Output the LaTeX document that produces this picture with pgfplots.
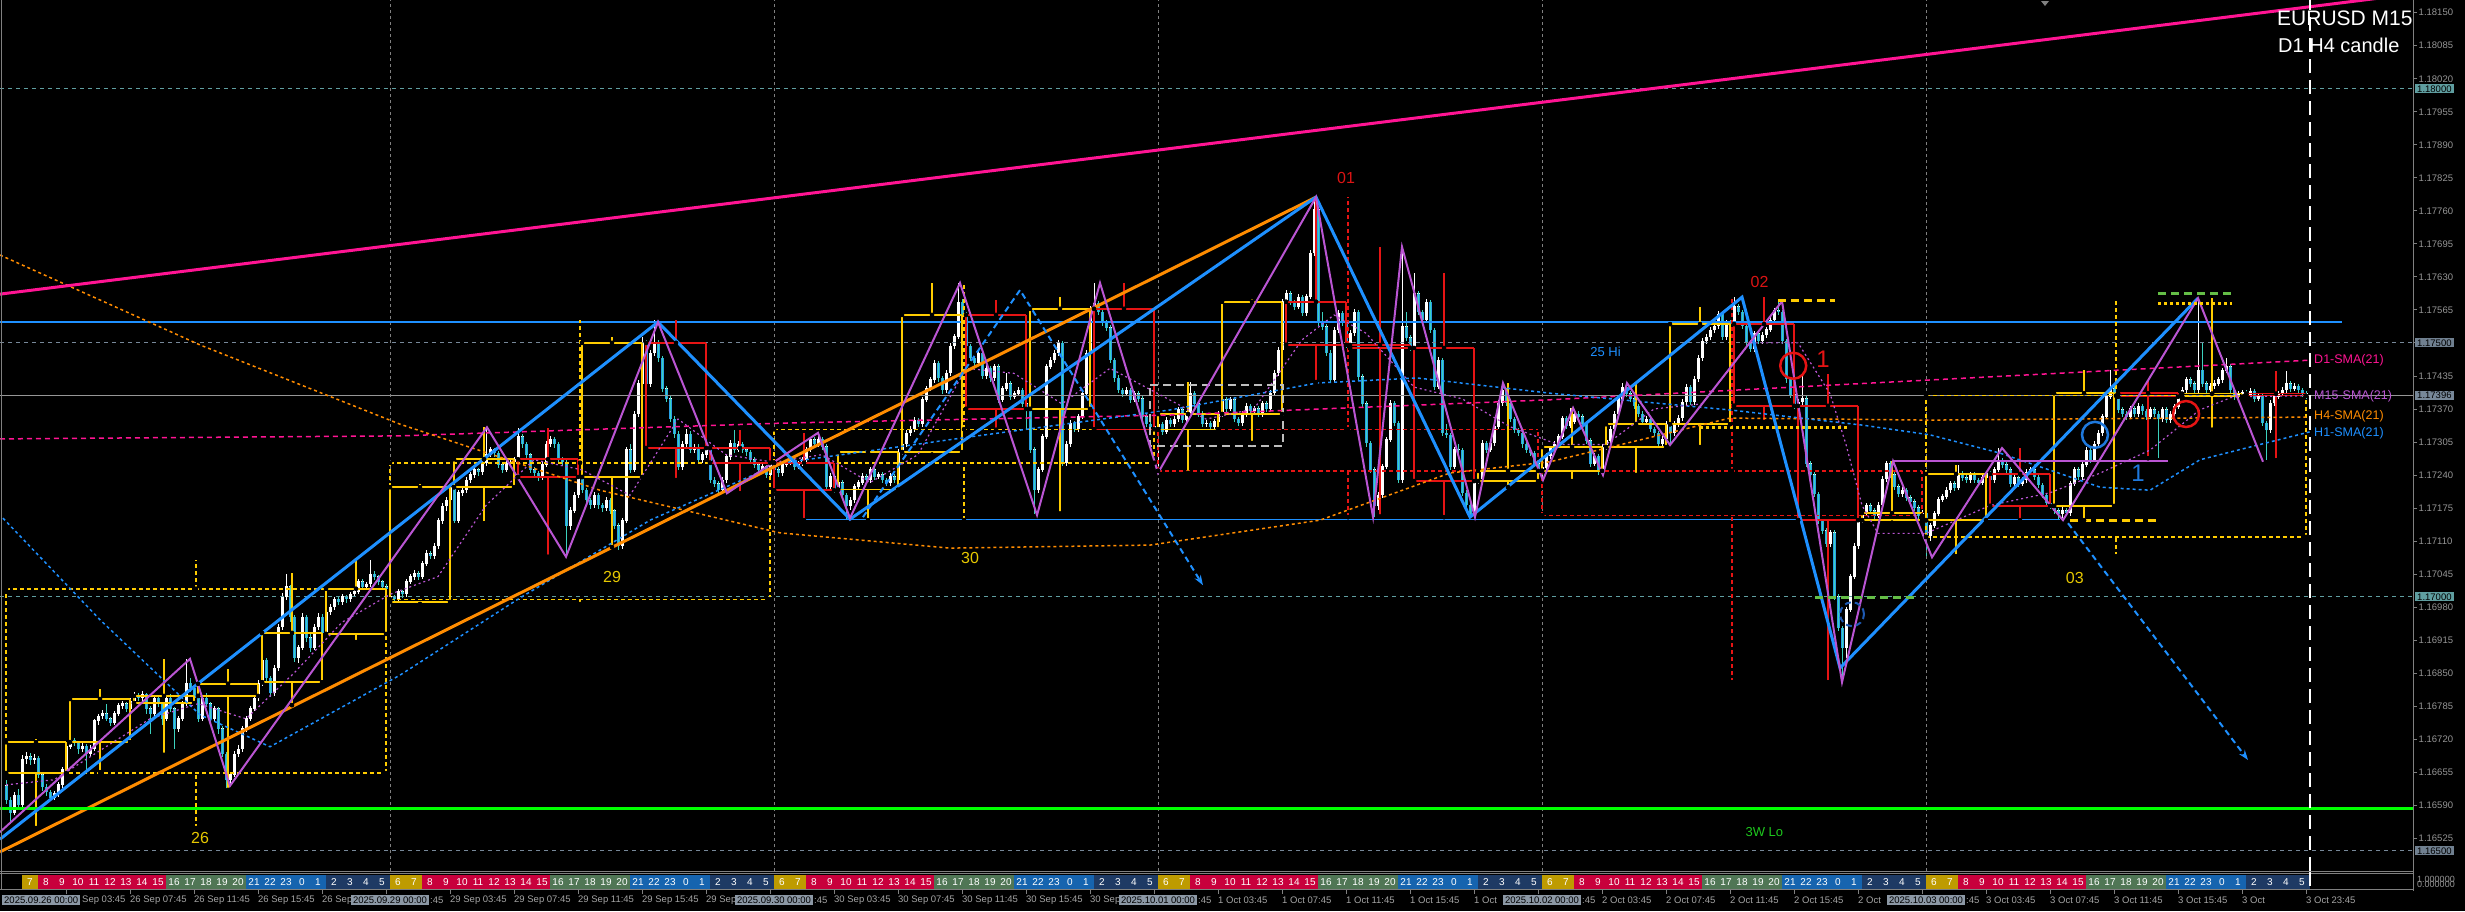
\documentclass[border=0pt]{standalone}
\usepackage{fontspec}
\setmainfont{Liberation Sans}
\usepackage{pgfplots}
\usepackage{pgfplotstable}
\pgfplotsset{compat=1.18}
\usetikzlibrary{arrows.meta}

\definecolor{cPink}{RGB}{255,20,147}
\definecolor{cGreen}{RGB}{0,255,0}
\definecolor{cGreenTxt}{RGB}{30,200,30}
\definecolor{cBlue}{RGB}{30,144,255}
\definecolor{cOrange}{RGB}{255,140,0}
\definecolor{cOrchid}{RGB}{186,85,211}
\definecolor{cYel}{RGB}{255,204,0}
\definecolor{cRed}{RGB}{230,20,20}
\definecolor{cBearBody}{RGB}{40,160,230}
\definecolor{cBearWick}{RGB}{60,210,190}
\definecolor{cLvlGray}{RGB}{119,136,153}
\definecolor{cCadet}{RGB}{95,158,160}
\definecolor{cCur}{RGB}{150,150,150}
\definecolor{cSep}{RGB}{128,128,128}
\definecolor{cTickText}{RGB}{150,150,150}
\definecolor{cFrame}{RGB}{128,128,128}
\definecolor{cLabelYel}{RGB}{230,200,0}
\definecolor{cLabelRed}{RGB}{220,20,20}
\definecolor{cGreenDash}{RGB}{100,190,70}
\definecolor{cBox2}{RGB}{112,128,144}
\definecolor{cDate}{RGB}{140,152,165}
\definecolor{cTime}{RGB}{165,165,165}
\definecolor{sGold}{RGB}{190,155,0}
\definecolor{sRed}{RGB}{200,0,60}
\definecolor{sGreen}{RGB}{80,118,85}
\definecolor{sBlue}{RGB}{22,100,175}
\definecolor{sNavy}{RGB}{30,58,100}
\definecolor{cGrayBox}{RGB}{190,190,190}
\definecolor{cBlueC}{RGB}{30,120,220}
\definecolor{cBlueD}{RGB}{30,90,180}

% M15 candles: open high low close (price = 1.16 + value/100000), one row per 15 minutes
\pgfplotstableread{
o h l c
628 640 592 600
600 606 553 575
575 615 570 610
610 622 585 590
590 688 583 680
680 694 672 685
685 692 670 678
678 690 672 682
682 686 644 650
650 655 618 625
625 632 608 615
615 620 598 605
605 618 600 612
612 636 606 630
630 666 624 660
660 712 655 705
705 726 700 718
718 722 706 712
712 716 690 700
700 712 694 706
706 710 655 690
690 708 684 700
700 760 696 756
756 770 748 765
765 778 760 770
770 790 755 760
760 764 745 752
752 776 748 770
770 792 766 786
786 796 780 790
790 794 774 780
780 800 776 795
795 812 790 805
805 810 795 800
800 815 796 808
808 811 770 780
780 785 730 770
770 806 764 800
800 804 784 790
790 794 748 760
760 806 756 800
800 808 774 780
780 784 700 740
740 766 734 760
760 796 756 790
790 877 786 830
830 840 812 820
820 826 794 800
800 804 754 760
760 806 756 800
800 810 784 790
790 794 752 760
760 786 754 780
780 784 730 740
740 746 684 690
690 694 621 640
640 656 630 650
650 696 645 690
690 708 684 700
700 746 695 740
740 766 735 760
760 786 755 780
780 806 775 800
800 836 796 829
829 877 824 875
875 880 835 840
840 845 802 810
810 866 805 860
860 946 855 940
940 1008 935 1000
1000 1046 994 1020
1020 1024 950 960
960 964 872 880
880 906 870 900
900 968 895 960
960 964 912 920
920 926 892 900
900 946 896 940
940 968 934 960
960 966 922 929
929 976 924 970
970 986 964 980
980 1000 974 995
995 1000 984 990
990 1006 985 1000
1000 1004 988 995
995 1010 990 1005
1005 1016 1000 1010
1010 1036 1006 1030
1030 1035 1014 1020
1020 1030 1015 1025
1025 1073 1020 1045
1045 1050 1034 1040
1040 1044 1024 1030
1030 1034 1014 1020
1020 1026 1010 1016
990 1006 986 1000
1000 1004 988 995
995 1016 990 1010
1010 1014 998 1005
1005 1036 1000 1030
1030 1046 1025 1040
1040 1052 1034 1046
1046 1050 1034 1040
1040 1070 1036 1065
1065 1092 1060 1085
1085 1090 1074 1080
1080 1106 1075 1100
1100 1156 1095 1150
1150 1184 1144 1178
1178 1196 1170 1190
1190 1222 1185 1216
1216 1220 1145 1150
1150 1210 1146 1205
1205 1216 1198 1210
1210 1236 1205 1230
1230 1246 1225 1240
1240 1256 1235 1250
1250 1254 1238 1245
1245 1268 1240 1263
1263 1335 1258 1280
1280 1296 1275 1290
1290 1294 1276 1283
1283 1288 1254 1260
1260 1264 1244 1250
1250 1268 1245 1262
1262 1270 1256 1265
1265 1276 1260 1271
1271 1332 1266 1315
1315 1320 1294 1300
1300 1305 1274 1280
1280 1284 1244 1250
1250 1256 1236 1243
1243 1248 1228 1235
1235 1266 1230 1260
1260 1306 1255 1300
1300 1316 1295 1310
1310 1315 1294 1300
1300 1304 1264 1270
1270 1276 1258 1265
1265 1270 1079 1140
1140 1176 1132 1170
1170 1206 1165 1200
1200 1242 1195 1236
1236 1240 1204 1210
1210 1215 1184 1190
1190 1195 1174 1180
1180 1206 1175 1200
1200 1204 1174 1180
1180 1185 1168 1175
1175 1196 1170 1190
1190 1194 1164 1170
1170 1174 1134 1140
1140 1146 1092 1100
1100 1156 1095 1150
1150 1296 1145 1290
1290 1300 1244 1250
1250 1366 1245 1360
1360 1426 1354 1420
1420 1512 1415 1500
1500 1506 1414 1420
1420 1486 1414 1480
1480 1545 1474 1500
1500 1505 1462 1470
1470 1474 1404 1410
1410 1416 1384 1390
1390 1396 1344 1350
1350 1356 1312 1320
1320 1326 1250 1256
1256 1306 1250 1300
1300 1330 1295 1320
1320 1326 1284 1290
1290 1300 1284 1295
1295 1300 1264 1270
1270 1286 1264 1280
1280 1298 1274 1293
1293 1298 1224 1230
1230 1236 1216 1223
1223 1228 1204 1210
1210 1236 1205 1230
1230 1282 1225 1276
1276 1308 1270 1302
1302 1329 1284 1290
1290 1306 1285 1300
1300 1305 1284 1290
1290 1296 1278 1285
1285 1290 1264 1270
1270 1275 1254 1260
1260 1265 1244 1250
1250 1262 1245 1256
1256 1260 1234 1240
1240 1270 1236 1264
1264 1268 1244 1250
1250 1255 1236 1243
1243 1266 1238 1260
1260 1270 1255 1265
1265 1275 1260 1269
1269 1273 1250 1256
1256 1268 1251 1262
1262 1276 1257 1270
1270 1296 1265 1290
1290 1315 1285 1309
1309 1314 1294 1300
1300 1322 1295 1310
1310 1314 1290 1296
1296 1300 1210 1217
1217 1243 1212 1237
1237 1242 1205 1211
1211 1231 1206 1225
1225 1230 1194 1200
1200 1205 1151 1178
1178 1196 1172 1190
1190 1223 1185 1217
1217 1231 1212 1225
1225 1243 1220 1237
1237 1242 1224 1230
1230 1256 1225 1250
1250 1255 1231 1237
1237 1246 1232 1240
1240 1245 1224 1230
1230 1235 1218 1224
1224 1243 1219 1237
1237 1242 1224 1230
1230 1291 1225 1285
1285 1306 1280 1300
1300 1328 1295 1322
1322 1336 1316 1330
1330 1354 1325 1348
1348 1353 1334 1340
1340 1394 1335 1388
1388 1416 1383 1410
1410 1433 1405 1427
1427 1466 1422 1460
1460 1465 1424 1430
1430 1435 1400 1407
1407 1446 1402 1440
1440 1499 1435 1493
1493 1518 1488 1512
1512 1617 1507 1580
1580 1586 1548 1555
1555 1560 1487 1493
1493 1498 1464 1470
1470 1475 1454 1460
1460 1486 1455 1480
1480 1484 1428 1434
1434 1456 1429 1450
1450 1455 1424 1430
1430 1459 1425 1453
1453 1458 1382 1388
1388 1416 1383 1410
1410 1440 1405 1420
1420 1425 1388 1394
1394 1406 1389 1400
1400 1413 1395 1407
1407 1412 1374 1380
1380 1385 1329 1370
1370 1375 1284 1290
1290 1295 1164 1211
1211 1256 1205 1250
1250 1321 1245 1315
1315 1459 1310 1453
1453 1472 1448 1466
1466 1486 1461 1480
1480 1505 1475 1499
1499 1504 1258 1263
1263 1306 1257 1300
1300 1348 1295 1342
1342 1347 1324 1330
1330 1361 1325 1355
1355 1406 1350 1400
1400 1486 1395 1480
1480 1573 1475 1567
1567 1617 1562 1578
1578 1583 1554 1560
1560 1565 1534 1540
1540 1545 1524 1530
1530 1535 1460 1466
1466 1471 1424 1430
1430 1436 1401 1407
1407 1412 1394 1400
1400 1413 1395 1407
1407 1412 1382 1388
1388 1406 1383 1400
1400 1405 1384 1390
1390 1395 1349 1355
1355 1360 1334 1340
1340 1346 1329 1335
1335 1340 1324 1330
1330 1346 1244 1340
1340 1345 1319 1325
1325 1354 1320 1348
1348 1353 1334 1340
1340 1356 1335 1350
1350 1374 1345 1368
1368 1373 1342 1348
1348 1366 1343 1360
1360 1424 1355 1401
1401 1406 1374 1380
1380 1385 1355 1361
1361 1366 1334 1340
1340 1348 1335 1342
1342 1347 1329 1335
1335 1351 1330 1345
1345 1366 1340 1360
1360 1394 1355 1388
1388 1393 1364 1370
1370 1394 1365 1388
1388 1393 1344 1350
1350 1355 1336 1342
1342 1366 1337 1360
1360 1381 1355 1375
1375 1380 1359 1365
1365 1376 1360 1370
1370 1375 1354 1360
1360 1386 1355 1380
1380 1385 1364 1370
1370 1407 1365 1401
1401 1446 1396 1440
1440 1492 1435 1486
1486 1587 1481 1581
1581 1605 1576 1597
1597 1602 1574 1580
1580 1585 1565 1571
1571 1596 1566 1590
1590 1595 1552 1558
1558 1597 1553 1591
1591 1682 1586 1676
1676 1788 1671 1762
1762 1768 1533 1539
1539 1560 1526 1532
1532 1538 1474 1480
1480 1486 1423 1427
1427 1531 1422 1525
1525 1564 1520 1558
1558 1563 1534 1540
1540 1546 1490 1496
1496 1525 1491 1519
1519 1566 1514 1560
1560 1565 1427 1433
1433 1438 1374 1380
1380 1385 1296 1302
1302 1307 1244 1250
1250 1255 1158 1178
1178 1206 1172 1200
1200 1262 1195 1256
1256 1315 1251 1309
1309 1387 1304 1381
1381 1386 1336 1342
1342 1347 1224 1230
1230 1689 1225 1532
1532 1560 1504 1510
1510 1515 1484 1490
1490 1638 1485 1597
1597 1602 1554 1560
1560 1565 1539 1545
1545 1586 1540 1580
1580 1585 1519 1525
1525 1530 1408 1414
1414 1472 1409 1466
1466 1471 1316 1322
1322 1340 1312 1318
1318 1323 1250 1256
1256 1296 1251 1290
1290 1300 1280 1289
1289 1294 1198 1204
1204 1210 1174 1180
1180 1185 1157 1160
1160 1234 1157 1228
1228 1240 1222 1232
1232 1308 1227 1302
1302 1307 1284 1290
1290 1308 1285 1302
1302 1341 1297 1335
1335 1387 1330 1381
1381 1421 1376 1407
1407 1412 1375 1381
1381 1386 1344 1350
1350 1355 1322 1328
1328 1333 1316 1322
1322 1327 1294 1300
1300 1305 1283 1289
1289 1294 1277 1283
1283 1288 1256 1262
1262 1267 1242 1248
1248 1260 1230 1254
1254 1283 1249 1277
1277 1298 1272 1292
1292 1306 1287 1300
1300 1321 1295 1315
1315 1357 1310 1352
1352 1357 1331 1337
1337 1372 1332 1345
1345 1366 1340 1360
1360 1365 1349 1355
1355 1360 1334 1340
1340 1345 1301 1307
1307 1312 1256 1262
1262 1283 1257 1277
1277 1282 1240 1247
1247 1301 1242 1295
1295 1313 1290 1307
1307 1336 1302 1330
1330 1366 1325 1360
1360 1396 1355 1390
1390 1421 1385 1413
1413 1418 1394 1400
1400 1405 1384 1390
1390 1395 1369 1375
1375 1380 1354 1360
1360 1365 1339 1345
1345 1356 1340 1350
1350 1355 1324 1330
1330 1335 1316 1322
1322 1327 1296 1300
1300 1316 1296 1310
1310 1346 1305 1340
1340 1345 1299 1322
1322 1346 1317 1340
1340 1358 1335 1352
1352 1389 1347 1383
1383 1419 1378 1413
1413 1418 1377 1383
1383 1434 1378 1428
1428 1476 1423 1470
1470 1509 1465 1503
1503 1517 1498 1511
1511 1531 1506 1525
1525 1539 1520 1533
1533 1562 1528 1556
1556 1561 1505 1511
1511 1546 1506 1540
1540 1545 1531 1537
1537 1590 1532 1571
1571 1576 1554 1560
1560 1565 1527 1533
1533 1538 1494 1500
1500 1505 1482 1488
1488 1524 1483 1518
1518 1523 1497 1503
1503 1521 1498 1515
1515 1532 1510 1526
1526 1551 1521 1545
1545 1568 1540 1563
1563 1582 1554 1560
1560 1565 1497 1503
1503 1508 1422 1428
1428 1433 1392 1398
1398 1403 1370 1376
1376 1389 1371 1383
1383 1439 1378 1390
1390 1395 1256 1262
1262 1267 1234 1240
1240 1245 1196 1202
1202 1207 1143 1149
1149 1154 1124 1130
1130 1135 1098 1104
1104 1132 1099 1126
1126 1131 994 1000
1000 1005 932 938
938 943 832 900
900 981 880 975
975 1046 970 1040
1040 1106 1035 1100
1100 1157 1095 1151
1151 1170 1146 1164
1164 1185 1159 1179
1179 1184 1164 1170
1170 1175 1154 1160
1160 1186 1155 1180
1180 1238 1175 1232
1232 1268 1227 1262
1262 1267 1234 1240
1240 1245 1211 1217
1217 1222 1196 1202
1202 1216 1197 1210
1210 1215 1189 1195
1195 1200 1181 1187
1187 1192 1169 1175
1175 1180 1154 1160
1160 1171 1155 1165
1165 1170 1080 1120
1120 1146 1110 1140
1140 1170 1135 1164
1164 1197 1159 1191
1191 1203 1186 1197
1197 1216 1192 1210
1210 1229 1205 1223
1223 1228 1209 1215
1215 1260 1210 1243
1243 1248 1229 1235
1235 1240 1224 1230
1230 1246 1225 1240
1240 1245 1224 1230
1230 1235 1219 1225
1225 1241 1220 1235
1235 1248 1230 1242
1242 1247 1224 1230
1230 1256 1225 1250
1250 1293 1245 1269
1269 1274 1254 1260
1260 1265 1244 1250
1250 1255 1217 1223
1223 1241 1218 1235
1235 1240 1217 1223
1223 1236 1218 1230
1230 1251 1225 1245
1245 1256 1240 1250
1250 1255 1230 1236
1236 1241 1214 1220
1220 1225 1194 1200
1200 1205 1178 1184
1184 1189 1173 1179
1179 1184 1164 1170
1170 1175 1151 1164
1164 1176 1155 1170
1170 1175 1159 1165
1165 1229 1160 1223
1223 1256 1218 1250
1250 1255 1230 1236
1236 1266 1231 1260
1260 1295 1255 1289
1289 1294 1264 1270
1270 1306 1265 1300
1300 1328 1295 1322
1322 1361 1317 1355
1355 1400 1350 1394
1394 1446 1389 1410
1410 1415 1395 1401
1401 1406 1362 1368
1368 1373 1354 1360
1360 1365 1349 1355
1355 1376 1350 1370
1370 1375 1354 1360
1360 1381 1355 1375
1375 1380 1359 1365
1365 1370 1349 1355
1355 1374 1350 1368
1368 1373 1354 1360
1360 1365 1273 1350
1350 1374 1345 1368
1368 1373 1342 1348
1348 1366 1343 1360
1360 1380 1355 1374
1374 1400 1369 1394
1394 1413 1389 1407
1407 1433 1402 1427
1427 1432 1414 1420
1420 1425 1401 1407
1407 1588 1402 1446
1446 1500 1414 1420
1420 1425 1401 1407
1407 1421 1402 1415
1415 1426 1410 1420
1420 1433 1415 1427
1427 1451 1422 1445
1445 1470 1440 1453
1453 1458 1401 1407
1407 1412 1388 1394
1394 1406 1389 1400
1400 1408 1392 1402
1402 1407 1392 1398
1398 1411 1393 1405
1405 1410 1384 1390
1390 1401 1385 1395
1395 1400 1336 1342
1342 1347 1269 1328
1328 1387 1323 1381
1381 1400 1376 1394
1394 1406 1389 1400
1400 1413 1395 1407
1407 1445 1402 1420
1420 1425 1404 1410
1410 1421 1405 1415
1415 1420 1401 1407
1407 1412 1394 1400
1400 1405 1390 1396
}\candles

% H4 candles drawn as boxes (k = index of 4-hour block)
\pgfplotstableread{
k o c hi lo
0 653 714 720 545
1 714 799 819 655
2 791 805 878 689
3 805 829 858 620
4 832 929 1047 787
5 927 1016 1073 911
6 990 1216 1222 986
7 1216 1271 1334 1145
8 1271 1236 1332 1079
9 1236 1500 1512 1098
10 1500 1293 1545 1230
11 1293 1264 1329 1204
12 1264 1210 1322 1151
13 1211 1285 1290 1151
14 1285 1555 1618 1280
15 1555 1370 1584 1329
16 1370 1567 1590 1164
17 1567 1330 1618 1324
18 1330 1360 1424 1244
19 1360 1581 1587 1303
20 1581 1496 1788 1423
21 1496 1490 1689 1158
22 1490 1228 1638 1157
23 1228 1248 1421 1216
24 1248 1295 1372 1228
25 1295 1340 1421 1240
26 1340 1537 1571 1295
27 1537 1376 1590 1344
28 1376 1151 1439 832
29 1151 1165 1268 1146
30 1151 1242 1260 1080
31 1242 1179 1293 1151
32 1179 1401 1446 1151
33 1401 1394 1427 1273
34 1394 1400 1588 1329
35 1400 1396 1445 1269
}\hfour

% D1 candles drawn as dashed boxes
\pgfplotstableread{
k o c hi lo
0 653 1016 1073 545
1 995 1264 1545 986
2 1264 1330 1618 1151
3 1330 1248 1788 1157
4 1248 1160 1590 832
5 1118 1396 1588 1080
}\done

% #1 table, #2 period, #3 width, #4 style, #5 flag (1 = draw)
\newcommand{\boxset}[5]{%
\addplot[only marks,mark=none,forget plot,error bars/.cd,y dir=plus,y explicit,error mark=none,error bar style={#4}] table[x expr={#2*\thisrow{k}}, y expr={min(\thisrow{o},\thisrow{c})}, y error expr={(#5)*abs(\thisrow{c}-\thisrow{o})}]{#1};
\addplot[only marks,mark=none,forget plot,error bars/.cd,y dir=plus,y explicit,error mark=none,error bar style={#4}] table[x expr={#2*\thisrow{k}+#3}, y expr={min(\thisrow{o},\thisrow{c})}, y error expr={(#5)*abs(\thisrow{c}-\thisrow{o})}]{#1};
\addplot[only marks,mark=none,forget plot,error bars/.cd,x dir=plus,x explicit,error mark=none,error bar style={#4}] table[x expr={#2*\thisrow{k}}, y expr={max(\thisrow{o},\thisrow{c})}, x error expr={(#5)*#3}]{#1};
\addplot[only marks,mark=none,forget plot,error bars/.cd,x dir=plus,x explicit,error mark=none,error bar style={#4}] table[x expr={#2*\thisrow{k}}, y expr={min(\thisrow{o},\thisrow{c})}, x error expr={(#5)*#3}]{#1};
\addplot[only marks,mark=none,forget plot,error bars/.cd,y dir=plus,y explicit,error mark=none,error bar style={#4}] table[x expr={#2*\thisrow{k}+#3/2}, y expr={max(\thisrow{o},\thisrow{c})}, y error expr={(#5)*(\thisrow{hi}-max(\thisrow{o},\thisrow{c}))}]{#1};
\addplot[only marks,mark=none,forget plot,error bars/.cd,y dir=plus,y explicit,error mark=none,error bar style={#4}] table[x expr={#2*\thisrow{k}+#3/2}, y=lo, y error expr={(#5)*(min(\thisrow{o},\thisrow{c})-\thisrow{lo})}]{#1};
}

\begin{document}
\begin{tikzpicture}[x=1pt,y=1pt]
\useasboundingbox (0,0) rectangle (2465,-911);
\fill[black] (0,0) rectangle (2465,-911);

\begin{axis}[
  at={(0pt,0pt)}, anchor=north west, scale only axis,
  width=2413pt, height=871pt,
  xmin=-0.375, xmax=150.4375, ymin=460.4, ymax=2175,
  axis line style={draw=none},
  xtick=\empty,
  ytick={525,590,...,2150},
  yticklabels={1.16525,1.16590,1.16655,1.16720,1.16785,1.16850,1.16915,1.16980,1.17045,1.17110,1.17175,1.17240,1.17305,1.17370,1.17435,1.17500,1.17565,1.17630,1.17695,1.17760,1.17825,1.17890,1.17955,1.18020,1.18085,1.18150},
  ytick pos=right, yticklabel pos=right,
  tick align=outside, major tick length=4pt,
  tick style={draw=cFrame, line width=0.8pt},
  yticklabel style={font=\fontsize{9.5}{11}\selectfont, text=cTickText, inner sep=1.5pt},
  clip=true,
]
% candles (combs from the bottom, lower part masked in black)
\addplot[ycomb, mark=none, draw=white, line width=3pt, forget plot] table[x expr={0.25*\coordindex}, y expr={max(\thisrow{o},\thisrow{c})+1}]{\candles};
\addplot[ycomb, mark=none, draw=cBearBody, line width=3pt, forget plot] table[x expr={0.25*\coordindex}, y expr={(\thisrow{c}<\thisrow{o})*\thisrow{o}}]{\candles};
\addplot[ycomb, mark=none, draw=black, line width=3.4pt, forget plot] table[x expr={0.25*\coordindex}, y expr={min(\thisrow{o},\thisrow{c})}]{\candles};
\addplot[ycomb, mark=none, draw=white, line width=1pt, forget plot] table[x expr={0.25*\coordindex}, y=h]{\candles};
\addplot[ycomb, mark=none, draw=cBearWick, line width=1pt, forget plot] table[x expr={0.25*\coordindex}, y expr={(\thisrow{c}<\thisrow{o})*\thisrow{h}}]{\candles};
\addplot[ycomb, mark=none, draw=black, line width=1.4pt, forget plot] table[x expr={0.25*\coordindex}, y=l]{\candles};
% price levels
\addplot[cCadet, dash pattern=on 4pt off 4pt, line width=1pt] coordinates {(-0.375,2000) (150.44,2000)};
\addplot[cCadet, dash pattern=on 4pt off 4pt, line width=1pt] coordinates {(-0.375,1000) (150.44,1000)};
\addplot[cLvlGray, dash pattern=on 4pt off 4pt, line width=1pt] coordinates {(-0.375,1500) (150.44,1500)};
\addplot[cLvlGray, dash pattern=on 4pt off 4pt, line width=1pt] coordinates {(-0.375,500) (150.44,500)};
\addplot[cCur, line width=1pt] coordinates {(-0.375,1396) (150.44,1396)};
% day separators
\addplot[cSep, dash pattern=on 3pt off 3pt, line width=1pt] coordinates {(24,460.4) (24,2175)};
\addplot[cSep, dash pattern=on 3pt off 3pt, line width=1pt] coordinates {(48,460.4) (48,2175)};
\addplot[cSep, dash pattern=on 3pt off 3pt, line width=1pt] coordinates {(72,460.4) (72,2175)};
\addplot[cSep, dash pattern=on 3pt off 3pt, line width=1pt] coordinates {(96,460.4) (96,2175)};
\addplot[cSep, dash pattern=on 3pt off 3pt, line width=1pt] coordinates {(120,460.4) (120,2175)};
% horizontal blue levels
\addplot[cBlue, line width=1.3pt] coordinates {(-0.375,1541) (146,1541)};
\addplot[cBlue, line width=1.3pt] coordinates {(49.9,1153) (128.4,1153)};
% D1 boxes
\boxset{\done}{24}{23.75}{draw=cYel, line width=1.5pt, dash pattern=on 4pt off 3pt}{1-(\thisrow{c}<\thisrow{o})}
\boxset{\done}{24}{23.75}{draw=cRed, line width=1.5pt, dash pattern=on 4pt off 3pt}{(\thisrow{c}<\thisrow{o})}
% H4 boxes
\boxset{\hfour}{4}{3.75}{draw=cYel, line width=1.5pt}{1-(\thisrow{c}<\thisrow{o})}
\boxset{\hfour}{4}{3.75}{draw=cRed, line width=1.5pt}{(\thisrow{c}<\thisrow{o})}
% moving averages
\addplot[cPink, line width=1.5pt, dash pattern=on 5pt off 4pt] coordinates {(-0.375,1311) (24.625,1317) (48.375,1342) (72.75,1358) (96.5,1388) (120.25,1427) (144,1466)};
\addplot[cOrange, line width=1.5pt, dash pattern=on 3pt off 3pt] coordinates {(-0.375,1673) (12.125,1496) (24.625,1340) (37.125,1210) (48.375,1126) (59,1096) (71.5,1102) (82.125,1151) (90.25,1244) (96.5,1266) (107.75,1352) (120.25,1348) (144,1354)};
\addplot[cBlue, line width=1.5pt, dash pattern=on 3pt off 3pt] coordinates {(-0.19,1155) (5.875,955) (12.125,768) (16.5,705) (24.625,846) (32.125,998) (40.25,1151) (48.375,1263) (60.25,1315) (72.75,1368) (81.94,1421) (88.19,1431) (96.5,1401) (107.75,1368) (116.06,1338) (120.25,1319) (124.625,1283) (130.875,1216) (134,1210) (137.125,1270) (144,1325)};
\addplot[cOrchid, line width=1.2pt, dash pattern=on 2pt off 3pt] coordinates {(0,630) (3,640) (6,700) (9,760) (12,790) (15,760) (18,850) (21,950) (24,1005) (27,1040) (30,1180) (33,1270) (36,1250) (39,1200) (42,1350) (45,1280) (48,1265) (51,1280) (54,1225) (57,1280) (60,1450) (63,1440) (66,1380) (69,1450) (72,1400) (75,1350) (78,1370) (81,1506) (83,1555) (85,1519) (88,1413) (91,1390) (94,1335) (97,1300) (100,1300) (103,1370) (106,1380) (109,1500) (112,1500) (114,1400) (115,1300) (116,1180) (117,1125) (120,1125) (124,1180) (127.75,1205) (130.9,1244) (134,1289) (137.1,1368) (139.2,1394) (144,1396)};
% gray dashed range box
\addplot[cGrayBox, line width=2.5pt, dash pattern=on 8pt off 5pt] coordinates {(71.5,1417) (79.81,1417) (79.81,1297) (71.5,1297) (71.5,1417)};
% trend lines
\addplot[cPink, line width=3pt] coordinates {(-0.375,1596) (150.44,2187)};
\addplot[cOrange, line width=3pt] coordinates {(-0.375,498) (81.875,1787)};
\addplot[cGreen, line width=3pt] coordinates {(-0.375,583) (150.44,583)};
% zigzags
\addplot[cBlue, line width=3pt] coordinates {(-0.375,523) (40.75,1541) (52.75,1153) (81.875,1787) (91.5,1157) (108.5,1590) (114.625,860) (137,1588)};
\addplot[cOrchid, line width=2pt] coordinates {(-0.375,537) (11.5,878) (14,628) (30.06,1334) (35,1079) (40.75,1541) (45.06,1204) (50.75,1323) (52.75,1155) (59.625,1618) (64.44,1161) (68.375,1618) (72,1244) (81.875,1787) (85.44,1157) (87.25,1689) (91.81,1157) (93.56,1421) (96.06,1230) (97.94,1372) (99.81,1240) (101.31,1421) (104,1299) (111,1582) (114.75,832) (117.94,1267) (120.375,1078) (124.75,1293) (128.56,1151) (137,1588) (141.06,1266)};
\addplot[cOrchid, line width=1.5pt] coordinates {(117.94,1267.5) (135.125,1267.5)};
% projection arrows
\addplot[cBlue, line width=2pt, dash pattern=on 6pt off 4pt, -{Stealth[length=10pt,width=7pt]}] coordinates {(53.56,1157) (63.375,1604) (74.81,1023)};
\addplot[cBlue, line width=2pt, dash pattern=on 6pt off 4pt, -{Stealth[length=10pt,width=7pt]}] coordinates {(128.875,1145) (140.125,679)};
% level markers
\addplot[cYel, line width=3pt, dash pattern=on 8pt off 5pt] coordinates {(110.75,1584) (114.3,1584)};
\addplot[cYel, line width=3pt, dash pattern=on 3pt off 3pt] coordinates {(105.9,1334) (115.06,1334)};
\addplot[cGreenDash, line width=3pt, dash pattern=on 8pt off 5pt] coordinates {(113.06,998) (119.5,998)};
\addplot[cGreenDash, line width=3pt, dash pattern=on 8pt off 5pt] coordinates {(134.5,1598) (139.3,1598)};
\addplot[cYel, line width=3pt, dash pattern=on 3pt off 3pt] coordinates {(134.5,1578) (139.1,1578)};
\addplot[cYel, line width=3pt, dash pattern=on 8pt off 5pt] coordinates {(129,1151) (134.6,1151)};
% circles
\addplot[only marks, mark=o, mark size=13pt, mark options={draw=cRed, line width=2.5pt, fill=none}] coordinates {(111.7,1455) (136.25,1360)};
\addplot[only marks, mark=o, mark size=13pt, mark options={draw=cBlueC, line width=2.5pt, fill=none}] coordinates {(130.56,1319)};
\addplot[only marks, mark=o, mark size=12pt, mark options={draw=cBlueD, line width=2pt, fill=none, dash pattern=on 6pt off 4pt}] coordinates {(115.375,966)};
% current time line
\addplot[white, line width=1.5pt, dash pattern=on 14pt off 7pt] coordinates {(144,460.4) (144,2175)};
% texts
\node[text=cLabelYel, font=\fontsize{16}{18}\selectfont] at (axis cs:12.125,525) {26};
\node[text=cLabelYel, font=\fontsize{16}{18}\selectfont] at (axis cs:37.875,1039) {29};
\node[text=cLabelYel, font=\fontsize{16}{18}\selectfont] at (axis cs:60.25,1077) {30};
\node[text=cLabelRed, font=\fontsize{16}{18}\selectfont] at (axis cs:83.75,1825) {01};
\node[text=cLabelRed, font=\fontsize{16}{18}\selectfont] at (axis cs:109.6,1620) {02};
\node[text=cLabelYel, font=\fontsize{16}{18}\selectfont] at (axis cs:129.3,1037) {03};
\node[text=cBlue, font=\fontsize{13}{15}\selectfont, anchor=west] at (axis cs:98.8,1482) {25 Hi};
\node[text=cGreenTxt, font=\fontsize{13}{15}\selectfont] at (axis cs:109.9,537) {3W Lo};
\node[text=cRed, font=\fontsize{24}{26}\selectfont] at (axis cs:113.56,1468) {1};
\node[text=cBlueC, font=\fontsize{24}{26}\selectfont] at (axis cs:133.25,1244) {1};
\node[text=cPink, font=\fontsize{12.5}{13}\selectfont, anchor=west, inner sep=0pt] at (axis cs:144.25,1466) {D1-SMA(21)};
\node[text=cOrchid, font=\fontsize{12.5}{13}\selectfont, anchor=west, inner sep=0pt] at (axis cs:144.25,1394) {M15-SMA(21)};
\node[text=cOrange, font=\fontsize{12.5}{13}\selectfont, anchor=west, inner sep=0pt] at (axis cs:144.25,1355) {H4-SMA(21)};
\node[text=cBlue, font=\fontsize{12.5}{13}\selectfont, anchor=west, inner sep=0pt] at (axis cs:144.25,1323) {H1-SMA(21)};
\end{axis}

% frame
\draw[cFrame, line width=1pt] (2413,0) -- (2413,-891);
\draw[cFrame, line width=1pt] (1.5,0) -- (1.5,-889.5);
\draw[cFrame, line width=1pt] (0,-871.5) -- (2413,-871.5);
\draw[cFrame, line width=1pt] (0,-873.5) -- (2413,-873.5);
\draw[cFrame, line width=1pt] (0,-889.5) -- (2413,-889.5);

% title
\node[anchor=base west, text=white, font=\fontsize{21}{23}\selectfont, inner sep=0pt] at (2277,-25) {EURUSD M15};
\node[anchor=base west, text=white, font=\fontsize{20}{22}\selectfont, inner sep=0pt] at (2278,-52) {D1 H4 candle};
\fill[cSep] (2041,-1) -- (2049,-1) -- (2045,-6) -- cycle;

% highlighted price labels
\node[fill=cCadet, text=black, anchor=west, inner xsep=2pt, inner ysep=1.2pt, font=\fontsize{9.5}{10}\selectfont] at (2415,-88.9) {1.18000};
\node[fill=cBox2, text=black, anchor=west, inner xsep=2pt, inner ysep=1.2pt, font=\fontsize{9.5}{10}\selectfont] at (2415,-342.9) {1.17500};
\node[fill=cLvlGray, text=black, anchor=west, inner xsep=2pt, inner ysep=1.2pt, font=\fontsize{9.5}{10}\selectfont] at (2415,-395.7) {1.17396};
\node[fill=cCadet, text=black, anchor=west, inner xsep=2pt, inner ysep=1.2pt, font=\fontsize{9.5}{10}\selectfont] at (2415,-596.9) {1.17000};
\node[fill=cBox2, text=black, anchor=west, inner xsep=2pt, inner ysep=1.2pt, font=\fontsize{9.5}{10}\selectfont] at (2415,-850.9) {1.16500};
\node[text=cTickText, anchor=west, inner sep=0pt, font=\fontsize{9}{10}\selectfont] at (2417,-879) {1.000000};
\node[text=cTickText, anchor=west, inner sep=0pt, font=\fontsize{9}{10}\selectfont] at (2417,-884) {0.000000};

% session hour strip
\foreach \d in {0,...,5}{
  \foreach \j in {0,...,23}{
    \pgfmathtruncatemacro{\L}{mod(6+\j,24)}
    \pgfmathtruncatemacro{\idx}{24*\d+\j}
    \pgfmathsetmacro{\xa}{6+16*\idx}
    \def\cc{sNavy}
    \ifnum\L>5 \def\cc{sGold}\fi
    \ifnum\L>7 \def\cc{sRed}\fi
    \ifnum\L>15 \def\cc{sGreen}\fi
    \ifnum\L>20 \def\cc{sBlue}\fi
    \ifnum\L<2 \def\cc{sBlue}\fi
    \ifnum\idx>0
      \fill[\cc] (\xa,-874.5) rectangle ++(16,-14.5);
      \node[text=white, font=\fontsize{10}{11}\selectfont, inner sep=0pt] at (\xa+8,-881.8) {\L};
    \fi
  }
}
\draw[white, line width=1.5pt, dash pattern=on 14pt off 7pt] (2310,-871.5) -- (2310,-889.5);

% time axis: tick marks every 4 hours
\foreach \k in {0,...,35}{
  \pgfmathsetmacro{\xt}{6+16*(3.75+4*\k)}
  \draw[cFrame, line width=0.8pt] (\xt,-889.5) -- ++(0,-4);
}
% time labels (the parts that the date boxes leave visible)
\foreach \d/\dn in {0/26 Sep,1/29 Sep,2/30 Sep,3/1 Oct,4/2 Oct,5/3 Oct}{
  \foreach \t/\tn in {7.75/07:45,11.75/11:45,15.75/15:45}{
    \pgfmathsetmacro{\xb}{6+16*(24*\d+\t)}
    \node[anchor=west, text=cTime, font=\fontsize{9.5}{11}\selectfont, inner sep=0pt] at (\xb,-900) {\dn\ \tn};
  }
  \pgfmathsetmacro{\xe}{6+16*(24*\d+19.75)}
  \node[anchor=west, text=cTime, font=\fontsize{9.5}{11}\selectfont, inner sep=0pt] at (\xe,-900) {\dn};
}
\foreach \d/\dn in {1/29 Sep,2/30 Sep,3/1 Oct,4/2 Oct,5/3 Oct}{
  \pgfmathsetmacro{\xb}{6+16*(24*\d+3.75)}
  \node[anchor=west, text=cTime, font=\fontsize{9.5}{11}\selectfont, inner sep=0pt] at (\xb,-900) {\dn\ 03:45};
}
\node[anchor=west, text=cTime, font=\fontsize{9.5}{11}\selectfont, inner sep=0pt] at (82,-900) {Sep 03:45};
\foreach \d in {1,...,5}{
  \pgfmathsetmacro{\xf}{6+384*\d+40}
  \node[anchor=west, text=cTime, font=\fontsize{9.5}{11}\selectfont, inner sep=0pt] at (\xf,-900) {:45};
}
\node[anchor=west, text=cTime, font=\fontsize{9.5}{11}\selectfont, inner sep=0pt] at (2306,-900) {3 Oct 23:45};
% date boxes
\node[fill=cDate, text=black, anchor=west, inner xsep=2pt, inner ysep=1.5pt, font=\fontsize{9.5}{11}\selectfont] at (2,-900) {2025.09.26 00:00};
\foreach \d/\ds in {1/2025.09.29,2/2025.09.30,3/2025.10.01,4/2025.10.02,5/2025.10.03}{
  \pgfmathsetmacro{\xc}{6+384*\d}
  \node[fill=cDate, text=black, inner xsep=2pt, inner ysep=1.5pt, font=\fontsize{9.5}{11}\selectfont] at (\xc,-900) {\ds\ 00:00};
}
\end{tikzpicture}
\end{document}
